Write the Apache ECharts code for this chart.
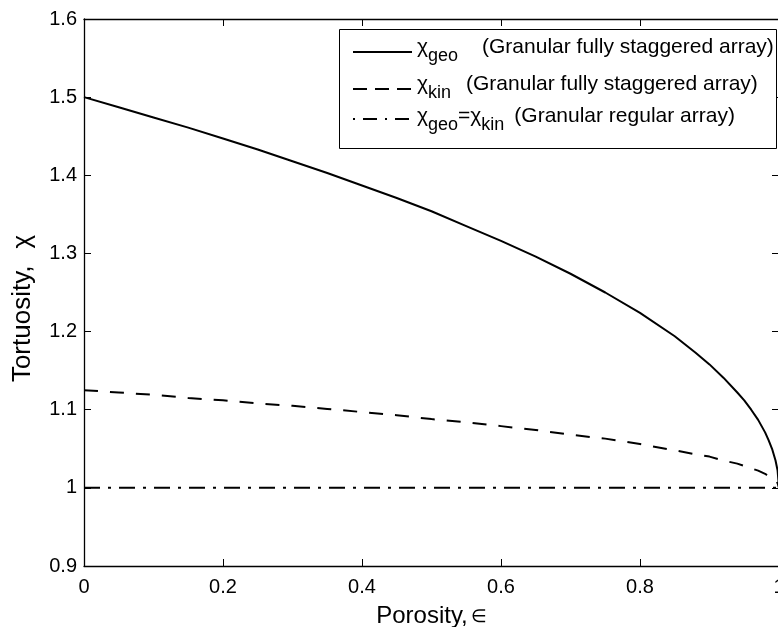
<!DOCTYPE html>
<html>
<head>
<meta charset="utf-8">
<script src="https://cdn.jsdelivr.net/npm/echarts@6/dist/echarts.min.js"></script>
<style>
  html, body { margin: 0; padding: 0; background: #fff; }
  #chart { width: 778px; height: 627px; }
</style>
</head>
<body>
<div id="chart"></div>
<script>
// Porosity values (x) and tortuosity curves
const porosity = [0, 0.05, 0.1, 0.15, 0.2, 0.25, 0.3, 0.35, 0.4, 0.45, 0.5, 0.55, 0.6, 0.65, 0.7, 0.75, 0.8, 0.85, 0.88, 0.9, 0.92, 0.94, 0.95, 0.96, 0.97, 0.98, 0.985, 0.99, 0.995, 0.998, 1];
const chiGeoStaggered = [1.500, 1.487, 1.474, 1.461, 1.447, 1.433, 1.418, 1.403, 1.387, 1.371, 1.354, 1.335, 1.316, 1.296, 1.274, 1.250, 1.224, 1.194, 1.173, 1.158, 1.141, 1.122, 1.112, 1.100, 1.087, 1.071, 1.061, 1.050, 1.035, 1.022, 1.000];
const chiKinStaggered = [1.125, 1.122, 1.119, 1.115, 1.112, 1.108, 1.105, 1.101, 1.097, 1.093, 1.088, 1.084, 1.079, 1.074, 1.068, 1.063, 1.056, 1.048, 1.043, 1.040, 1.035, 1.031, 1.028, 1.025, 1.022, 1.018, 1.015, 1.012, 1.009, 1.006, 1.000];
const regularPorosity = [0, 1];
const chiRegular = [1, 1];

const xTicks = { min: 0, max: 1, interval: 0.2 };
const yTicks = { min: 0.9, max: 1.6, interval: 0.1 };

const FONT = "'Liberation Sans', Arial, Helvetica, sans-serif";

function pairs(xs, ys) { return xs.map((x, i) => [x, ys[i]]); }

const chart = echarts.init(document.getElementById('chart'), null, { renderer: 'canvas' });

const axisCommon = {
  type: 'value',
  axisLine: { show: true, onZero: false, lineStyle: { color: '#000', width: 1.3 } },
  axisTick: { show: true, inside: true, length: 7, lineStyle: { color: '#000', width: 1 } },
  splitLine: { show: false }
};

// legend text styles: main text and subscripts
const subBase = { fontFamily: FONT, fontSize: 18, color: '#000', lineHeight: 28, verticalAlign: 'bottom' };
const rich = {
  m: { fontFamily: FONT, fontSize: 21, color: '#000', lineHeight: 24, verticalAlign: 'top' },
  s: subBase,
  g1: Object.assign({}, subBase, { width: 54 }),
  k1: Object.assign({}, subBase, { width: 38 }),
  k3: Object.assign({}, subBase, { width: 33 })
};

const legendRows = [
  { lineY: 52, textY: 37, dash: null, text: '{m|χ}{g1|geo}{m|(Granular fully staggered array)}' },
  { lineY: 89, textY: 74, dash: [14, 8], text: '{m|χ}{k1|kin}{m|(Granular fully staggered array)}' },
  { lineY: 119, textY: 106, dash: [2, 8, 14, 8], text: '{m|χ}{s|geo}{m|=χ}{k3|kin}{m|(Granular regular array)}' }
];

const graphic = [
  { type: 'rect', z: 100, shape: { x: 339.5, y: 29.5, width: 437, height: 119 },
    style: { fill: '#fff', stroke: '#000', lineWidth: 1 } }
];
legendRows.forEach(r => {
  graphic.push({ type: 'line', z: 101, shape: { x1: 353, y1: r.lineY, x2: 412, y2: r.lineY },
    style: { stroke: '#000', lineWidth: 2, lineDash: r.dash } });
  graphic.push({ type: 'text', z: 101, x: 417, y: r.textY,
    style: { text: r.text, rich: rich, fill: '#000', verticalAlign: 'top' } });
});

chart.setOption({
  animation: false,
  backgroundColor: '#fff',
  grid: { left: 84, top: 19, width: 695, height: 547, containLabel: false, outerBoundsMode: 'none' },
  xAxis: [
    Object.assign({}, axisCommon, xTicks, {
      position: 'bottom',
      name: '{a|Porosity,}{e|∈}',
      nameLocation: 'middle',
      nameGap: 38,
      nameTextStyle: {
        fontFamily: FONT, fontSize: 24, color: '#000',
        rich: {
          a: { fontFamily: FONT, fontSize: 24, color: '#000' },
          e: { fontFamily: FONT, fontSize: 18, color: '#000', padding: [2, 0, 0, 3] }
        }
      },
      axisLabel: { fontFamily: FONT, fontSize: 20, color: '#000', margin: 11 }
    }),
    Object.assign({}, axisCommon, xTicks, {
      position: 'top',
      axisLabel: { show: false }
    })
  ],
  yAxis: [
    Object.assign({}, axisCommon, yTicks, {
      position: 'left',
      name: '{a|Tortuosity,}{c|χ}',
      nameLocation: 'middle',
      nameGap: 48,
      nameRotate: 90,
      nameTextStyle: {
        fontFamily: FONT, fontSize: 26, color: '#000', padding: [0, 32, 0, 0],
        rich: {
          a: { fontFamily: FONT, fontSize: 26, color: '#000' },
          c: { fontFamily: FONT, fontSize: 26, color: '#000', padding: [0, 0, 0, 17] }
        }
      },
      axisLabel: { fontFamily: FONT, fontSize: 20, color: '#000', margin: 7 }
    }),
    Object.assign({}, axisCommon, yTicks, {
      position: 'right',
      axisLabel: { show: false }
    })
  ],
  series: [
    {
      name: 'χgeo (Granular fully staggered array)',
      type: 'line', xAxisIndex: 0, yAxisIndex: 0,
      data: pairs(porosity, chiGeoStaggered),
      showSymbol: false, smooth: false,
      lineStyle: { color: '#000', width: 2, type: 'solid' }
    },
    {
      name: 'χkin (Granular fully staggered array)',
      type: 'line', xAxisIndex: 0, yAxisIndex: 0,
      data: pairs(porosity, chiKinStaggered),
      showSymbol: false, smooth: false,
      lineStyle: { color: '#000', width: 2, type: [14, 12] }
    },
    {
      name: 'χgeo=χkin (Granular regular array)',
      type: 'line', xAxisIndex: 0, yAxisIndex: 0,
      data: pairs(regularPorosity, chiRegular),
      showSymbol: false,
      lineStyle: { color: '#000', width: 2, type: [16, 8, 3, 8] }
    }
  ],
  graphic: graphic
});
</script>
</body>
</html>
